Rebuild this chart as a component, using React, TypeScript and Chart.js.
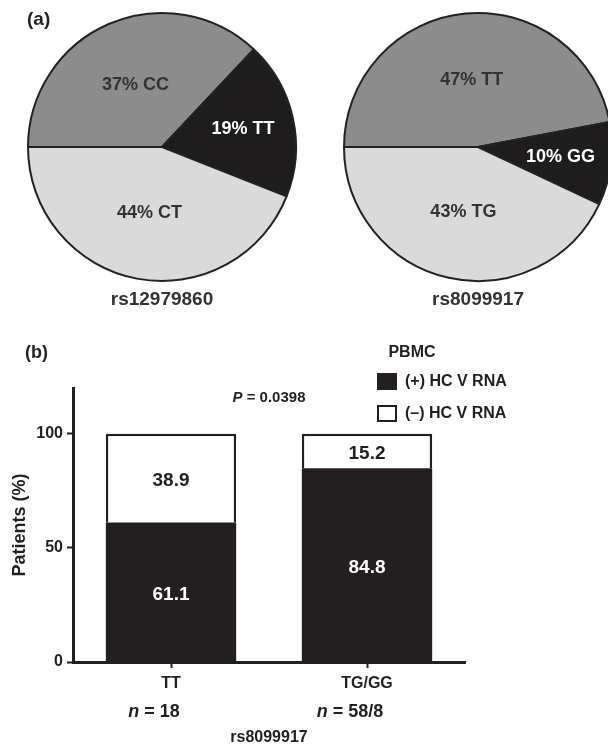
import React, { useEffect, useRef } from 'react';
import { Chart, registerables } from 'chart.js';
Chart.register(...registerables);

const FF = '"Liberation Sans", Arial, Helvetica, sans-serif';
const INK = '#231f20';

// ---- Panel (a) data ----
const pie1Labels = ['CC', 'TT', 'CT'];
const pie1Values = [37, 19, 44];
const pie1Title = 'rs12979860';
const pie2Labels = ['TT', 'GG', 'TG'];
const pie2Values = [47, 10, 43];
const pie2Title = 'rs8099917';
const pieColors = ['#8c8c8c', '#1e1c1d', '#dadada'];

// ---- Panel (b) data ----
const barCategories = ['TT', 'TG/GG'];
const barCounts = ['18', '58/8'];
const positiveValues = [61.1, 84.8];
const negativeValues = [38.9, 15.2];
const yTicks = [0, 50, 100];
const seriesLabels = ['(+) HC V RNA', '(–) HC V RNA'];
const legendTitle = 'PBMC';
const pValue = '0.0398';
const xTitle = 'rs8099917';
const yTitle = 'Patients (%)';

function PieChart(props: { labels: string[]; values: number[]; title: string; panel?: string; padding: any; width: number; left: number }) {
  const ref = useRef<HTMLCanvasElement>(null);
  useEffect(() => {
    const labelPlugin = {
      id: 'pieLabels',
      afterDatasetsDraw(chart: any) {
        const ctx = chart.ctx;
        const meta = chart.getDatasetMeta(0);
        ctx.save();
        ctx.textAlign = 'center';
        ctx.textBaseline = 'middle';
        ctx.font = `bold 18px ${FF}`;
        meta.data.forEach((el: any, i: number) => {
          const { x, y, startAngle, endAngle, outerRadius } = el.getProps(['x', 'y', 'startAngle', 'endAngle', 'outerRadius'], true);
          const mid = (startAngle + endAngle) / 2;
          const v = props.values[i];
          const frac = v < 25 ? 0.62 : 0.5;
          ctx.fillStyle = pieColors[i] === '#1e1c1d' ? '#ffffff' : '#333333';
          ctx.fillText(`${v}% ${props.labels[i]}`, x + Math.cos(mid) * outerRadius * frac, y + Math.sin(mid) * outerRadius * frac);
        });
        const ca = chart.chartArea;
        ctx.fillStyle = '#333333';
        ctx.font = `bold 19px ${FF}`;
        ctx.fillText(props.title, (ca.left + ca.right) / 2, ca.bottom + 18);
        if (props.panel) {
          ctx.fillStyle = INK;
          ctx.textAlign = 'left';
          ctx.fillText(props.panel, ca.left, ca.top + 8);
        }
        ctx.restore();
      },
    };
    const chart = new Chart(ref.current!, {
      type: 'pie',
      data: {
        labels: props.labels,
        datasets: [{ data: props.values, backgroundColor: pieColors, borderColor: '#222222', borderWidth: 2 }],
      },
      options: {
        responsive: false,
        animation: false,
        rotation: -90,
        layout: { padding: props.padding },
        plugins: { legend: { display: false }, tooltip: { enabled: false } },
      },
      plugins: [labelPlugin],
    } as any);
    return () => chart.destroy();
  }, []);
  return <canvas ref={ref} width={props.width} height={320} style={{ position: 'absolute', left: props.left, top: 0 }} />;
}

function BarChart() {
  const ref = useRef<HTMLCanvasElement>(null);
  useEffect(() => {
    const extras = {
      id: 'extras',
      afterDatasetsDraw(chart: any) {
        const ctx = chart.ctx;
        const ca = chart.chartArea;
        ctx.save();
        ctx.textAlign = 'center';
        ctx.textBaseline = 'middle';
        // value labels
        ctx.font = `bold 19px ${FF}`;
        chart.data.datasets.forEach((ds: any, di: number) => {
          const meta = chart.getDatasetMeta(di);
          meta.data.forEach((el: any, i: number) => {
            const { x, y, base } = el.getProps(['x', 'y', 'base'], true);
            ctx.fillStyle = di === 0 ? '#ffffff' : INK;
            ctx.fillText(Number(ds.data[i]).toFixed(1), x, (y + base) / 2 + 3);
          });
        });
        ctx.fillStyle = INK;
        // panel label
        ctx.textAlign = 'left';
        ctx.font = `bold 18px ${FF}`;
        ctx.fillText('(b)', 25, ca.top - 35);
        // P value
        const cx = (ca.left + ca.right) / 2;
        ctx.font = `italic bold 15px ${FF}`;
        const wP = ctx.measureText('P').width;
        ctx.font = `bold 15px ${FF}`;
        const rest = ` = ${pValue}`;
        const wR = ctx.measureText(rest).width;
        const sx = cx - (wP + wR) / 2;
        ctx.font = `italic bold 15px ${FF}`;
        ctx.fillText('P', sx, ca.top + 10);
        ctx.font = `bold 15px ${FF}`;
        ctx.fillText(rest, sx + wP, ca.top + 10);
        // n labels
        const xs = chart.scales.x;
        barCounts.forEach((c, i) => {
          const px = xs.getPixelForValue(i) - 17;
          ctx.font = `italic bold 18px ${FF}`;
          const wn = ctx.measureText('n').width;
          ctx.font = `bold 18px ${FF}`;
          const t = ` = ${c}`;
          const wt = ctx.measureText(t).width;
          const s = px - (wn + wt) / 2;
          ctx.font = `italic bold 18px ${FF}`;
          ctx.fillText('n', s, ca.bottom + 50);
          ctx.font = `bold 18px ${FF}`;
          ctx.fillText(t, s + wn, ca.bottom + 50);
        });
        // legend
        ctx.textAlign = 'center';
        ctx.font = `bold 16px ${FF}`;
        ctx.fillText(legendTitle, ca.right - 53, ca.top - 35);
        ctx.textAlign = 'left';
        chart.data.datasets.forEach((ds: any, di: number) => {
          const by = ca.top - 15 + di * 32;
          ctx.fillStyle = ds.backgroundColor;
          ctx.fillRect(ca.right - 88, by, 20, 17);
          ctx.strokeStyle = INK;
          ctx.lineWidth = 2;
          ctx.strokeRect(ca.right - 87, by + 1, 18, 15);
          ctx.fillStyle = INK;
          ctx.fillText(ds.label, ca.right - 60, by + 9);
        });
        ctx.restore();
      },
    };
    const tickFont = { family: FF, size: 16, weight: 'bold' };
    const chart = new Chart(ref.current!, {
      type: 'bar',
      data: {
        labels: barCategories,
        datasets: [
          { label: seriesLabels[0], data: positiveValues, backgroundColor: INK, borderColor: INK, borderWidth: 0, barPercentage: 0.665, categoryPercentage: 1 },
          { label: seriesLabels[1], data: negativeValues, backgroundColor: '#ffffff', borderColor: INK, borderWidth: 2.5, borderSkipped: 'start', barPercentage: 0.665, categoryPercentage: 1 },
        ],
      },
      options: {
        responsive: false,
        animation: false,
        layout: { padding: { left: 0, right: 143, top: 78, bottom: 0 } },
        plugins: { legend: { display: false }, tooltip: { enabled: false } },
        scales: {
          x: {
            stacked: true,
            offset: true,
            grid: { offset: false, drawOnChartArea: false, drawTicks: true, tickLength: 6, tickWidth: 2, tickColor: INK },
            border: { display: true, color: INK, width: 3 },
            ticks: { color: INK, font: tickFont, padding: 6 },
            title: { display: true, text: xTitle, color: INK, font: { family: FF, size: 16, weight: 'bold' }, padding: { top: 0, bottom: 0 } },
            afterFit: (s: any) => { s.height = 85; },
          },
          y: {
            stacked: true,
            min: 0,
            max: 120,
            afterBuildTicks: (s: any) => { s.ticks = yTicks.map((v) => ({ value: v })); },
            grid: { drawOnChartArea: false, drawTicks: true, tickLength: 6, tickWidth: 2, tickColor: INK },
            border: { display: true, color: INK, width: 3 },
            ticks: { color: INK, font: tickFont, padding: 4 },
            title: { display: true, text: yTitle, color: INK, font: { family: FF, size: 18, weight: 'bold' }, padding: { top: 9, bottom: 0 } },
            afterFit: (s: any) => { s.width = 73; },
          },
        },
      },
      plugins: [extras],
    } as any);
    return () => chart.destroy();
  }, []);
  return <canvas ref={ref} width={608} height={437} style={{ position: 'absolute', left: 0, top: 310 }} />;
}

export default function App() {
  return (
    <div style={{ position: 'absolute', left: 0, top: 0, width: 608, height: 747, overflow: 'hidden', background: '#ffffff' }}>
      <PieChart labels={pie1Labels} values={pie1Values} title={pie1Title} panel="(a)" padding={{ left: 27, top: 12, right: 7, bottom: 38 }} width={304} left={0} />
      <PieChart labels={pie2Labels} values={pie2Values} title={pie2Title} padding={{ left: 39, top: 12, right: 11, bottom: 38 }} width={320} left={304} />
      <BarChart />
    </div>
  );
}
